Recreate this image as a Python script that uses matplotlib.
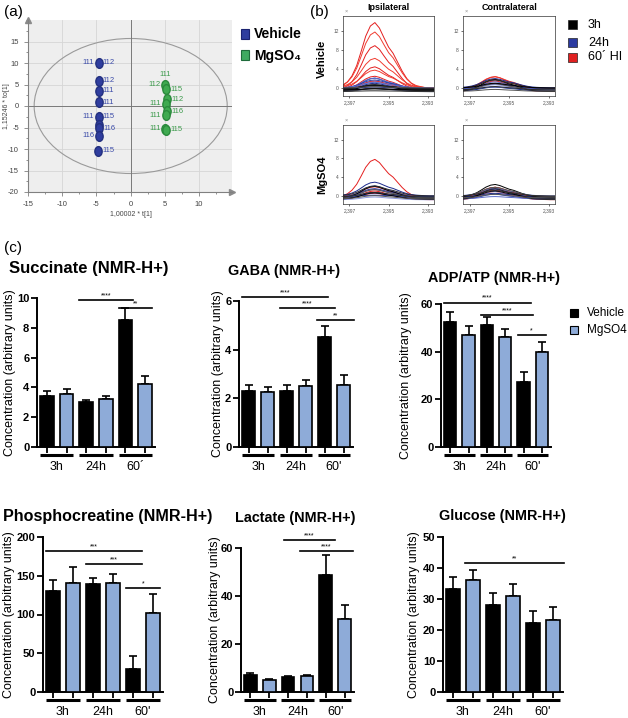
import numpy as np
import matplotlib.pyplot as plt
from matplotlib.patches import Ellipse, Rectangle
from matplotlib.path import Path
from matplotlib.transforms import Affine2D, blended_transform_factory, ScaledTranslation
from matplotlib.ticker import MultipleLocator

plt.rcParams['font.family'] = ['Liberation Sans', 'DejaVu Sans']
plt.rcParams['axes.unicode_minus'] = False

#------------------------------------------------------------------------------
# (a) OPLS-DA score plot
veh_t = [-4.7, -4.7, -4.7, -4.7, -4.7, -4.6, -4.6, -4.7, -4.8]
veh_to = [10.0, 5.9, 3.6, 0.9, -2.5, -4.4, -5.2, -6.9, -10.4]
veh_lab_l = ['111', '', '', '', '111', '', '', '116', '']
veh_lab_r = ['112', '112', '111', '111', '115', '', '116', '', '115']

mg_t = [5.0, 5.2, 5.3, 5.1, 5.3, 5.1, 5.0, 5.2]
mg_to = [4.9, 3.9, 1.6, 0.5, -1.2, -2.1, -5.3, -5.5]
mg_lab_l = ['112', '', '', '111', '', '111', '111', '']
mg_lab_r = ['', '115', '112', '', '116', '', '', '115']
mg_lab_top = ['111', '', '', '', '', '', '', '']

# (b) spectra: ppm grid, normalised peak profile, peak heights
spec_ppm = [2.39733, 2.39710, 2.39687, 2.39663, 2.39640, 2.39617, 2.39593,
            2.39570, 2.39547, 2.39524, 2.39500, 2.39477, 2.39454, 2.39431,
            2.39407, 2.39384, 2.39361, 2.39338, 2.39314, 2.39291, 2.39268]
spec_shape = [0.08, 0.13, 0.22, 0.37, 0.58, 0.80, 0.95, 1.00, 0.92, 0.78, 0.64,
              0.55, 0.42, 0.29, 0.18, 0.11, 0.07, 0.05, 0.03, 0.02, 0.02]
spec_base = [-0.7, -0.4, -0.9, -0.2, -0.6, -0.1, -0.5, -0.8, -0.3]

veh_ipsi_red = [14.5, 12.2, 9.8, 6.4, 5.0, 3.8, 2.9, 2.2, 1.6]
veh_ipsi_blue = [2.7, 2.4, 2.1, 1.8, 1.5, 1.2, 0.9, 0.6, 0.4]
veh_ipsi_black = [1.3, 1.0, 0.8, 0.6, 0.4, 0.3, 0.2, 0.1]
veh_con_red = [3.0, 2.7, 2.3, 1.9, 1.5]
veh_con_blue = [2.0, 1.7, 1.4, 1.1, 0.8, 0.5]
veh_con_black = [2.6, 1.8, 1.4, 1.0, 0.7, 0.4]
mg_ipsi_red = [8.5, 2.3, 1.9, 1.5, 1.1]
mg_ipsi_blue = [3.0, 2.6, 2.2, 1.8, 1.4, 1.0, 0.6, 0.3]
mg_ipsi_black = [2.6, 2.2, 1.8, 1.4, 1.0, 0.7]
mg_con_red = [2.5, 2.2, 1.8, 1.4]
mg_con_blue = [2.0, 1.7, 1.4, 1.1, 0.8, 0.5]
mg_con_black = [2.8, 2.4, 2.0, 1.6, 1.2, 0.8]

# (c) bar charts: mean and SEM, order 3h, 24h, 60'
succ_veh = [3.42, 3.05, 8.5];   succ_veh_e = [0.32, 0.12, 0.8]
succ_mg = [3.58, 3.22, 4.24];   succ_mg_e = [0.3, 0.18, 0.55]
gaba_veh = [2.3, 2.3, 4.52];    gaba_veh_e = [0.24, 0.24, 0.44]
gaba_mg = [2.25, 2.5, 2.56];    gaba_mg_e = [0.23, 0.27, 0.4]
adp_veh = [52.3, 51.3, 27.2];   adp_veh_e = [4.2, 3.3, 4.2]
adp_mg = [46.9, 46.1, 39.9];    adp_mg_e = [3.8, 3.5, 4.2]
pcr_veh = [130, 140, 29.7];     pcr_veh_e = [15, 7.6, 16.3]
pcr_mg = [141, 140.6, 102];     pcr_mg_e = [20, 12.2, 25]
lac_veh = [7.2, 6.1, 48.9];     lac_veh_e = [0.9, 0.5, 8.0]
lac_mg = [5.1, 6.6, 30.6];      lac_mg_e = [0.5, 0.6, 5.6]
glu_veh = [33.2, 28.1, 22.4];   glu_veh_e = [3.8, 3.8, 3.6]
glu_mg = [36.0, 31.0, 23.2];    glu_mg_e = [3.5, 3.8, 4.3]

# significance bars (from bar, to bar, height, stars)
succ_sig = [(1.65, 4.4, 9.87, '****'), (3.65, 5.35, 9.3, '**')]
gaba_sig = [(-0.32, 4.2, 6.17, '****'), (1.65, 4.57, 5.72, '****'), (3.62, 5.53, 5.23, '**')]
adp_sig = [(-0.31, 4.4, 60.6, '****'), (1.68, 4.5, 55.5, '****'), (3.68, 5.2, 47.0, '*')]
pcr_sig = [(-0.33, 4.43, 182, '***'), (1.67, 4.43, 164.8, '***'), (3.66, 5.34, 134.2, '*')]
lac_sig = [(1.79, 4.47, 63.2, '****'), (2.63, 5.44, 58.6, '****')]
glu_sig = [(0.62, 5.53, 41.5, '**')]

groups_a = ['3h', '24h', '60\u00b4']
groups_b = ['3h', '24h', "60'"]

#------------------------------------------------------------------------------
W, H = 628, 718
fig = plt.figure(figsize=(W / 100, H / 100), dpi=100)

def px_axes(l, t, r, b):
    return fig.add_axes([l / W, 1 - b / H, (r - l) / W, (b - t) / H])

ov = fig.add_axes([0, 0, 1, 1])
ov.set_xlim(0, W)
ov.set_ylim(H, 0)
ov.axis('off')
ov.set_zorder(10)

#------------------------------------------------------------------------------
# (a)
ax = px_axes(28, 20, 232, 192)
ax.set_facecolor('#eeeeee')
ax.set_xlim(-15, 14.8)
ax.set_ylim(-20, 20)
ax.set_xticks([-15, -10, -5, 0, 5, 10])
ax.set_yticks([-20, -15, -10, -5, 0, 5, 10, 15])
ax.xaxis.set_minor_locator(MultipleLocator(2.5))
ax.yaxis.set_minor_locator(MultipleLocator(2.5))
ax.grid(True, color='#d6d6d6', lw=0.6)
ax.set_axisbelow(True)
for s in ['top', 'right']:
    ax.spines[s].set_visible(False)
for s in ['left', 'bottom']:
    ax.spines[s].set_color('#808080')
    ax.spines[s].set_linewidth(0.8)
ax.tick_params(which='both', colors='#808080', labelcolor='#444444', labelsize=5.5, length=3, width=0.6)
ax.tick_params(which='minor', length=1.5)
ax.plot(1, 0, '>', color='#8a8a8a', ms=4, transform=ax.transAxes, clip_on=False)
ax.plot(0, 1, '^', color='#8a8a8a', ms=4, transform=ax.transAxes, clip_on=False)
ax.axhline(0, color='#7a7a7a', lw=0.7)
ax.axvline(0, color='#7a7a7a', lw=0.7)
ax.add_patch(Ellipse((0, 0), 28.2, 31.4, fill=False, ec='#9a9a9a', lw=0.8))

oval = Affine2D().scale(0.75, 1.0).transform_path(Path.unit_circle())
ax.plot(veh_t, veh_to, ls='none', marker=oval, ms=7, mfc='#2f3d9e', mec='#23307f', zorder=4)
ax.plot(mg_t, mg_to, ls='none', marker=oval, ms=7, mfc='#3faa50', mec='#2a8a3c', zorder=4)
for xs, ys, left, right, col in [(veh_t, veh_to, veh_lab_l, veh_lab_r, '#3a4aa8'),
                                 (mg_t, mg_to, mg_lab_l, mg_lab_r, '#3b9a4b')]:
    for x, y, l, r in zip(xs, ys, left, right):
        if l:
            ax.annotate(l, (x, y), xytext=(-3, 0), textcoords='offset points',
                        ha='right', va='center', fontsize=5.5, color=col)
        if r:
            ax.annotate(r, (x, y), xytext=(3, 0), textcoords='offset points',
                        ha='left', va='center', fontsize=5.5, color=col)
for x, y, t in zip(mg_t, mg_to, mg_lab_top):
    if t:
        ax.annotate(t, (x, y), xytext=(0, 5), textcoords='offset points',
                    ha='center', va='bottom', fontsize=5.5, color='#3b9a4b')

ov.text(7, 106, '1,15246 * to[1]', rotation=90, ha='center', va='center', fontsize=5, color='#444444')
ov.text(131, 214, '1,00002 * t[1]', ha='center', va='center', fontsize=5, color='#444444')
ov.text(4, 12, '(a)', ha='left', va='center', fontsize=11)

ov.add_patch(Rectangle((241, 29), 8, 10, fc='#2f3d9e', ec='#1a2270', lw=0.8))
ov.add_patch(Rectangle((241, 50), 8, 10, fc='#3faa60', ec='#1e6b3a', lw=0.8))
ov.text(254, 34, 'Vehicle', ha='left', va='center', fontsize=10, fontweight='bold')
ov.text(254, 56, 'MgSO\u2084', ha='left', va='center', fontsize=10, fontweight='bold')

#------------------------------------------------------------------------------
# (b)
red_cols = ['#e41f1f', '#f03c30']
blue_cols = ['#1b2a8c', '#5a6cc8', '#8f9be0', '#2d40a8']
black_cols = ['#000000', '#2a2a2a', '#555555']

def spectra(box, red, blue, black):
    a = px_axes(*box)
    k = 0
    for hs, cols in ((red, red_cols), (blue, blue_cols), (black, black_cols)):
        for i, h in enumerate(hs):
            y = spec_base[k % len(spec_base)] + h * np.array(spec_shape)
            a.plot(spec_ppm, y, color=cols[i % len(cols)], lw=0.7)
            k += 1
    a.set_xlim(2.39733, 2.39268)
    a.set_ylim(-1.8, 15.2)
    a.set_yticks([0, 4, 8, 12])
    a.set_xticks([2.397, 2.395, 2.393])
    a.set_xticklabels(['2,397', '2,395', '2,393'])
    a.tick_params(labelsize=3.5, labelcolor='#555555', length=1.5, width=0.4, pad=1.5)
    for s in a.spines.values():
        s.set_linewidth(0.5)
        s.set_color('#333333')
    ov.text(box[0] + 3, box[1] - 2, '\u00d7', fontsize=4, color='#888888', ha='center', va='bottom')

spectra((343, 16, 434, 96), veh_ipsi_red, veh_ipsi_blue, veh_ipsi_black)
spectra((463, 16, 555, 96), veh_con_red, veh_con_blue, veh_con_black)
spectra((343, 125, 434, 204), mg_ipsi_red, mg_ipsi_blue, mg_ipsi_black)
spectra((463, 125, 555, 204), mg_con_red, mg_con_blue, mg_con_black)

ov.text(310, 12, '(b)', ha='left', va='center', fontsize=11)
ov.text(388, 7, 'Ipsilateral', ha='center', va='center', fontsize=6.5, fontweight='bold')
ov.text(509, 7, 'Contralateral', ha='center', va='center', fontsize=6.5, fontweight='bold')
ov.text(322, 59, 'Vehicle', rotation=90, ha='center', va='center', fontsize=8, fontweight='bold')
ov.text(322, 175, 'MgSO4', rotation=90, ha='center', va='center', fontsize=8, fontweight='bold')

for yy, col, lab in [(20, 'black', '3h'), (38, '#2b3aa0', '24h'), (53, '#e02020', '60\u00b4 HI')]:
    ov.add_patch(Rectangle((568, yy), 9, 9, fc=col, ec='#222222', lw=0.5))
    ov.text(588, yy + 4.5, lab, ha='left', va='center', fontsize=9)

#------------------------------------------------------------------------------
# (c)
BLUE = '#8eabd8'

def bar_panel(box, veh_m, veh_e, mg_m, mg_e, ymax, ystep, sig, groups,
              title, title_xy, title_size, ylab_x):
    a = px_axes(*box)
    xv = np.arange(3) * 2
    xm = xv + 1
    a.errorbar(xv, veh_m, yerr=[np.zeros(3), veh_e], fmt='none', ecolor='black',
               elinewidth=1.2, capsize=3, capthick=1.2, zorder=2)
    a.errorbar(xm, mg_m, yerr=[np.zeros(3), mg_e], fmt='none', ecolor='black',
               elinewidth=1.2, capsize=3, capthick=1.2, zorder=2)
    a.bar(xv, veh_m, 0.68, color='black', edgecolor='black', lw=1.2, zorder=3)
    a.bar(xm, mg_m, 0.68, color=BLUE, edgecolor='black', lw=1.2, zorder=3)
    a.set_xlim(-0.5, 5.5)
    a.set_ylim(0, ymax)
    a.set_yticks(np.arange(0, ymax + ystep / 2, ystep))
    a.set_xticks(range(6))
    a.set_xticklabels([])
    a.tick_params(direction='out', length=4, width=1.3, labelsize=8, pad=1.5)
    for t in a.get_yticklabels():
        t.set_fontweight('bold')
    for s in ['top', 'right']:
        a.spines[s].set_visible(False)
    for s in ['left', 'bottom']:
        a.spines[s].set_linewidth(1.4)
    tr = blended_transform_factory(a.transData, a.transAxes)
    t_line = tr + ScaledTranslation(0, -8 / 100, fig.dpi_scale_trans)
    t_lab = tr + ScaledTranslation(0, -20 / 100, fig.dpi_scale_trans)
    for i, g in enumerate(groups):
        a.plot([2 * i - 0.35, 2 * i + 1.35], [0, 0], transform=t_line, color='black',
               lw=2.2, clip_on=False, solid_capstyle='butt')
        a.text(2 * i + 0.5, 0, g, transform=t_lab, ha='center', va='center', fontsize=9)
    for x0, x1, y, stars in sig:
        a.plot([x0, x1], [y, y], color='black', lw=1.2, clip_on=False)
        a.annotate(stars, ((x0 + x1) / 2, y), xytext=(0, 0.5), textcoords='offset points',
                   ha='center', va='bottom', fontsize=5, annotation_clip=False)
    ov.text(title_xy[0], title_xy[1], title, ha='center', va='center',
            fontsize=title_size, fontweight='bold')
    ov.text(ylab_x, (box[1] + box[3]) / 2, 'Concentration (arbitrary units)', rotation=90,
            ha='center', va='center', fontsize=9)

bar_panel((37, 298, 155, 447), succ_veh, succ_veh_e, succ_mg, succ_mg_e, 10, 2,
          succ_sig, groups_a, 'Succinate (NMR-H+)', (89, 268), 12, 10)
bar_panel((239, 301, 353, 447), gaba_veh, gaba_veh_e, gaba_mg, gaba_mg_e, 6, 2,
          gaba_sig, groups_b, 'GABA (NMR-H+)', (284, 271), 10.4, 218)
bar_panel((441, 304, 551, 447), adp_veh, adp_veh_e, adp_mg, adp_mg_e, 60, 20,
          adp_sig, groups_b, 'ADP/ATP (NMR-H+)', (494, 278), 10.4, 406)
bar_panel((43, 537, 163, 692), pcr_veh, pcr_veh_e, pcr_mg, pcr_mg_e, 200, 50,
          pcr_sig, groups_b, 'Phosphocreatine (NMR-H+)', (108, 516), 11.6, 9)
bar_panel((241, 548, 354, 692), lac_veh, lac_veh_e, lac_mg, lac_mg_e, 60, 20,
          lac_sig, groups_b, 'Lactate (NMR-H+)', (295, 518), 10.4, 215)
bar_panel((443, 537, 563, 692), glu_veh, glu_veh_e, glu_mg, glu_mg_e, 50, 10,
          glu_sig, groups_b, 'Glucose (NMR-H+)', (502, 516), 10.4, 414)

ov.text(4, 248, '(c)', ha='left', va='center', fontsize=11)
ov.add_patch(Rectangle((570, 309), 8, 8, fc='black', ec='black', lw=0.8))
ov.add_patch(Rectangle((570, 326), 8, 8, fc=BLUE, ec='black', lw=0.8))
ov.text(587, 313, 'Vehicle', ha='left', va='center', fontsize=8.5)
ov.text(587, 330, 'MgSO4', ha='left', va='center', fontsize=8.5)

fig.savefig('out.png', dpi=100)
